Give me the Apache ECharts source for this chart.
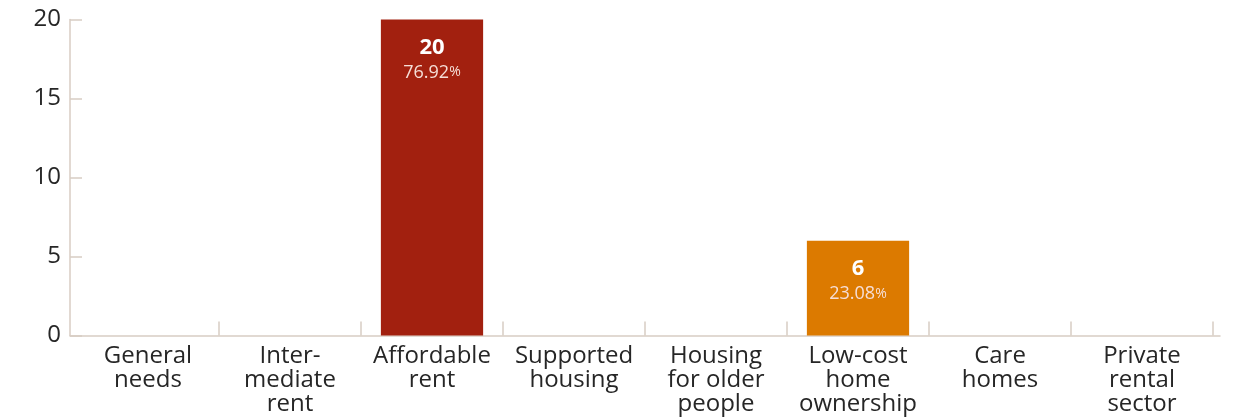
<!DOCTYPE html>
<html>
<head>
<meta charset="utf-8">
<script src="https://cdn.jsdelivr.net/npm/echarts@6/dist/echarts.min.js"></script>
<style>
html,body{margin:0;padding:0;background:#fff;}
#chart{width:1244px;height:419px;}
</style>
</head>
<body>
<div id="chart"></div>
<script>
const categories = ["General\nneeds", "Inter-\nmediate\nrent", "Affordable\nrent", "Supported\nhousing", "Housing\nfor older\npeople", "Low-cost\nhome\nownership", "Care\nhomes", "Private\nrental\nsector"];
const values = [null, null, 20, null, null, 6, null, null];
const barColors = ["#a2200f", "#a2200f", "#a2200f", "#a2200f", "#a2200f", "#dc7a00", "#a2200f", "#a2200f"];
const yTicks = [0, 5, 10, 15, 20];

const total = values.reduce((a, b) => a + (b || 0), 0);
const axisColor = "#d8cdc3";
const font = "'Open Sans', 'Noto Sans', sans-serif";

const chart = echarts.init(document.getElementById('chart'), null, {renderer: 'canvas'});
chart.setOption({
  animation: false,
  grid: [
    {left: 70, right: 24, top: 19.5, bottom: 83.5, containLabel: false},
    {left: 77, right: 31, top: 19.5, bottom: 83.5, containLabel: false}
  ],
  xAxis: [
    {
      gridIndex: 0,
      type: 'category',
      data: [''],
      axisLine: {lineStyle: {color: axisColor, width: 1.5}},
      axisTick: {show: false},
      axisLabel: {show: false}
    },
    {
      gridIndex: 1,
      type: 'category',
      data: categories,
      boundaryGap: true,
      axisLine: {show: false},
      axisTick: {show: true, inside: true, length: 14, alignWithLabel: false,
        interval: (i) => i !== 0,
        lineStyle: {color: axisColor, width: 1.5}},
      axisLabel: {color: '#262626', fontSize: 24, fontFamily: font, lineHeight: 24, margin: 9, interval: 0}
    }
  ],
  yAxis: [
    {
      gridIndex: 0,
      type: 'value',
      min: yTicks[0],
      max: yTicks[yTicks.length - 1],
      interval: 5,
      axisLine: {show: true, lineStyle: {color: axisColor, width: 1.5}},
      axisTick: {show: true, inside: true, length: 12, lineStyle: {color: axisColor, width: 1.5}},
      splitLine: {show: false},
      axisLabel: {color: '#262626', fontSize: 24, fontFamily: font, margin: 9}
    },
    {
      gridIndex: 1,
      type: 'value',
      min: yTicks[0],
      max: yTicks[yTicks.length - 1],
      interval: 5,
      show: false,
      splitLine: {show: false}
    }
  ],
  series: [{
    type: 'bar',
    xAxisIndex: 1,
    yAxisIndex: 1,
    data: values.map((v, i) => v == null ? null : {value: v, itemStyle: {color: barColors[i]}}),
    barWidth: '72%',
    label: {
      show: true,
      position: 'insideTop',
      distance: 15,
      fontFamily: font,
      formatter: p => '{v|' + p.value + '}\n{p|' + (p.value / total * 100).toFixed(2) + '}{s|%}',
      rich: {
        v: {color: '#fff', fontSize: 22, fontWeight: 'bold', fontFamily: font, lineHeight: 27},
        p: {color: '#f6ded7', fontSize: 18, fontFamily: font, lineHeight: 22},
        s: {color: '#f6ded7', fontSize: 14, fontFamily: font, lineHeight: 22}
      }
    }
  }]
});
</script>
</body>
</html>
